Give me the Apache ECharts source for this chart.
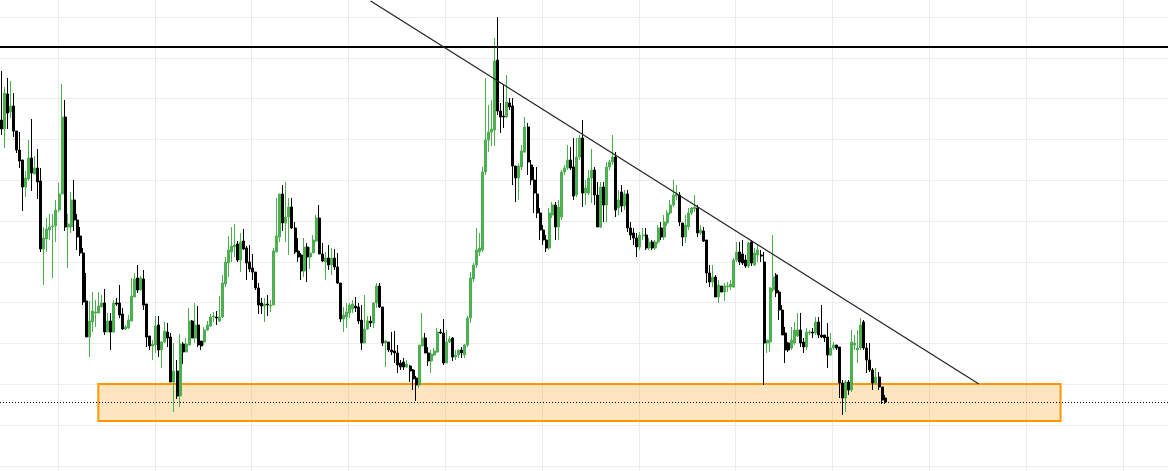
<!DOCTYPE html>
<html>
<head>
<meta charset="utf-8">
<script src="https://cdn.jsdelivr.net/npm/echarts@6/dist/echarts.min.js"></script>
<style>html,body{margin:0;padding:0;background:#fff;}#c{width:1168px;height:471px;}</style>
</head>
<body>
<div id="c"></div>
<script>
// Price series (points), one entry per candle
const opens = [
1351,1342,1377,1359,1365,1340,1321,1311,1284,1292,
1313,1297,1303,1290,1222,1232,1241,1244,1245,1261,
1277,1354,1244,1244,1271,1251,1235,1218,1170,1134,
1149,1158,1158,1164,1168,1139,1150,1139,1168,1168,
1157,1142,1143,1150,1174,1193,1181,1192,1167,1135,
1125,1126,1146,1121,1129,1139,1134,1089,1100,1075,
1127,1119,1126,1150,1133,1146,1130,1129,1141,1145,
1154,1154,1150,1154,1187,1208,1219,1224,1227,1211,
1230,1223,1209,1203,1199,1183,1168,1165,1167,1165,
1166,1219,1234,1277,1248,1254,1264,1243,1220,1216,
1200,1224,1214,1218,1230,1253,1217,1209,1213,1206,
1213,1204,1188,1152,1154,1158,1162,1165,1164,1151,
1128,1142,1150,1148,1168,1185,1164,1128,1129,1121,
1120,1118,1108,1109,1104,1105,1101,1093,1086,1125,
1133,1118,1110,1116,1119,1139,1138,1108,1129,1133,
1114,1116,1121,1116,1126,1153,1192,1206,1219,1221,
1299,1331,1339,1341,1411,1360,1355,1354,1368,1365,
1305,1293,1304,1319,1344,1306,1291,1277,1258,1241,
1231,1223,1256,1266,1244,1254,1299,1303,1311,1304,
1276,1314,1333,1278,1278,1293,1301,1276,1244,1284,
1266,1304,1309,1314,1263,1279,1265,1277,1243,1238,
1233,1224,1235,1236,1223,1229,1223,1229,1243,1234,
1248,1258,1266,1275,1276,1248,1234,1244,1258,1262,
1263,1238,1240,1231,1198,1189,1194,1174,1185,1179,
1184,1184,1184,1211,1219,1217,1211,1205,1229,1206,
1216,1216,1209,1128,1129,1181,1196,1179,1161,1138,
1128,1123,1128,1135,1141,1129,1124,1138,1139,1138,
1149,1136,1136,1134,1116,1123,1126,1124,1088,1073,
1089,1081,1126,1121,1123,1149,1123,1111,1101,1088,
1094,1084,1073
];
const closes = [
1342,1378,1358,1365,1340,1321,1310,1284,1293,1313,
1298,1303,1289,1222,1233,1242,1244,1245,1261,1277,
1354,1244,1247,1271,1251,1234,1218,1169,1134,1150,
1160,1159,1165,1168,1139,1150,1139,1168,1167,1156,
1142,1144,1151,1175,1192,1181,1193,1166,1134,1125,
1127,1145,1121,1129,1140,1133,1089,1100,1075,1127,
1119,1127,1150,1133,1146,1126,1125,1141,1146,1154,
1155,1153,1154,1188,1209,1221,1225,1226,1211,1229,
1222,1208,1202,1199,1183,1166,1165,1167,1166,1166,
1220,1235,1277,1248,1254,1264,1243,1219,1214,1200,
1224,1214,1218,1231,1253,1217,1210,1213,1206,1213,
1204,1188,1152,1156,1159,1166,1167,1163,1150,1128,
1142,1150,1148,1168,1185,1164,1128,1130,1121,1119,
1118,1106,1104,1104,1107,1100,1092,1086,1126,1133,
1118,1110,1117,1120,1139,1138,1108,1129,1132,1114,
1116,1121,1118,1126,1153,1193,1206,1221,1223,1299,
1331,1339,1342,1410,1360,1354,1354,1369,1364,1305,
1293,1305,1320,1344,1309,1291,1278,1258,1241,1231,
1223,1258,1266,1244,1264,1299,1303,1311,1303,1275,
1314,1333,1278,1283,1293,1301,1276,1244,1284,1266,
1304,1309,1314,1261,1271,1265,1277,1243,1236,1233,
1224,1236,1236,1223,1229,1223,1229,1243,1234,1249,
1258,1266,1276,1277,1249,1234,1246,1258,1263,1264,
1238,1241,1230,1198,1189,1194,1174,1186,1179,1185,
1185,1187,1211,1219,1209,1208,1205,1228,1208,1218,
1221,1215,1128,1131,1183,1194,1178,1161,1136,1121,
1121,1131,1141,1141,1128,1124,1139,1139,1138,1149,
1136,1134,1133,1116,1123,1126,1123,1088,1073,1089,
1081,1129,1128,1123,1146,1123,1111,1101,1088,1094,
1084,1071,1069
];
const highs = [
1400,1384,1393,1390,1378,1340,1339,1311,1300,1331,
1352,1315,1322,1303,1244,1253,1257,1257,1271,1288,
1387,1371,1257,1279,1291,1257,1244,1223,1198,1170,
1179,1171,1179,1176,1182,1158,1158,1171,1173,1186,
1163,1146,1156,1193,1198,1206,1195,1201,1167,1135,
1131,1155,1155,1130,1149,1148,1138,1128,1111,1137,
1129,1133,1163,1151,1168,1165,1130,1144,1150,1157,
1159,1160,1175,1196,1214,1235,1244,1247,1230,1238,
1242,1225,1226,1217,1199,1188,1173,1173,1176,1171,
1223,1273,1277,1286,1289,1273,1273,1249,1233,1218,
1233,1228,1224,1236,1256,1266,1228,1219,1226,1223,
1222,1218,1188,1164,1168,1168,1171,1174,1168,1166,
1176,1155,1155,1169,1188,1188,1164,1131,1129,1139,
1140,1126,1111,1113,1111,1106,1102,1095,1126,1158,
1138,1124,1121,1123,1143,1142,1152,1141,1135,1134,
1121,1121,1124,1127,1155,1199,1208,1243,1238,1304,
1393,1366,1371,1433,1454,1368,1386,1396,1373,1373,
1305,1308,1326,1354,1348,1311,1304,1304,1263,1246,
1236,1263,1269,1269,1271,1301,1306,1326,1324,1333,
1333,1336,1351,1291,1301,1322,1304,1289,1289,1289,
1309,1311,1336,1319,1281,1286,1281,1281,1249,1243,
1238,1239,1243,1243,1233,1231,1231,1246,1249,1256,
1261,1271,1291,1286,1279,1248,1256,1263,1264,1276,
1266,1246,1244,1231,1206,1206,1196,1191,1185,1188,
1189,1191,1213,1229,1229,1231,1216,1229,1231,1223,
1226,1221,1219,1131,1184,1236,1198,1181,1166,1144,
1129,1144,1149,1158,1158,1133,1143,1141,1143,1154,
1154,1166,1136,1148,1138,1129,1126,1124,1091,1091,
1091,1141,1136,1141,1153,1151,1128,1128,1103,1103,
1099,1084,1076
];
const lows = [
1336,1323,1342,1353,1334,1318,1303,1260,1274,1290,
1280,1297,1272,1219,1186,1219,1231,1193,1229,1259,
1277,1240,1203,1238,1240,1221,1215,1166,1134,1114,
1139,1144,1158,1164,1136,1139,1121,1138,1165,1153,
1141,1141,1142,1150,1174,1178,1181,1161,1124,1121,
1111,1118,1114,1103,1128,1124,1089,1059,1072,1064,
1107,1119,1126,1133,1128,1124,1121,1126,1140,1144,
1149,1146,1149,1153,1184,1194,1209,1214,1209,1199,
1221,1191,1199,1191,1181,1157,1157,1149,1155,1159,
1166,1219,1229,1240,1229,1216,1242,1217,1209,1191,
1194,1189,1202,1218,1229,1217,1209,1191,1201,1196,
1201,1187,1149,1139,1143,1153,1158,1159,1147,1121,
1128,1141,1144,1143,1163,1163,1125,1104,1119,1116,
1108,1098,1101,1101,1103,1089,1081,1070,1083,1125,
1118,1105,1098,1115,1118,1137,1106,1108,1128,1110,
1111,1113,1113,1113,1124,1148,1189,1203,1215,1219,
1296,1319,1325,1325,1356,1338,1343,1353,1361,1286,
1269,1271,1301,1318,1296,1286,1258,1253,1231,1226,
1219,1221,1253,1231,1231,1251,1296,1301,1301,1271,
1274,1311,1264,1266,1276,1268,1266,1244,1243,1249,
1249,1301,1306,1254,1256,1259,1261,1239,1231,1226,
1214,1221,1231,1221,1221,1221,1221,1227,1231,1231,
1245,1256,1264,1271,1245,1225,1228,1241,1256,1259,
1234,1236,1229,1188,1184,1184,1174,1168,1179,1170,
1179,1181,1183,1209,1206,1206,1203,1203,1205,1205,
1209,1209,1086,1118,1119,1179,1174,1151,1136,1108,
1119,1121,1126,1134,1124,1118,1121,1136,1133,1136,
1133,1133,1129,1103,1115,1121,1121,1073,1056,1059,
1076,1079,1121,1108,1121,1121,1098,1099,1081,1086,
1081,1067,1067
];
// Time slots on the axis (candles plus empty space on the right)
const SLOT_COUNT = 386;
const categories = Array.from({length: SLOT_COUNT}, (_, i) => String(i + 1));
// Annotation levels (price)
const resistanceLevel = 1424;
const lastPriceLevel = 1069;
const zoneTop = 1087, zoneBottom = 1050;
const zoneStartSlot = 32, zoneEndSlot = 350;
const trendStart = {slot: 122, price: 1470};
const trendEnd = {slot: 323, price: 1087};

const candleData = opens.map((o, i) => [o, closes[i], lows[i], highs[i]]);

const chart = echarts.init(document.getElementById('c'), null, {renderer: 'canvas'});
const gridLine = {show: true, lineStyle: {color: '#ececec', width: 1}};
const hidden = {axisLine: {show: false}, axisTick: {show: false}, axisLabel: {show: false}};
chart.setOption({
  animation: false,
  backgroundColor: '#ffffff',
  grid: [
    {left: 0, right: 0, top: 0, bottom: 0},
    {left: 0, right: 0, top: 17, bottom: 5},
    {left: 58, right: 0, top: 0, bottom: 0}
  ],
  xAxis: [
    {type: 'category', gridIndex: 0, data: categories, boundaryGap: true, show: false},
    Object.assign({type: 'value', gridIndex: 1, min: 0, max: 1, splitLine: {show: false}}, hidden),
    Object.assign({type: 'value', gridIndex: 2, min: 0, max: 1110 / 96.8, interval: 1, splitLine: gridLine}, hidden)
  ],
  yAxis: [
    {type: 'value', gridIndex: 0, min: 1000, max: 1471, show: false, scale: true},
    Object.assign({type: 'value', gridIndex: 1, min: 0, max: 11, interval: 1, splitLine: gridLine}, hidden),
    Object.assign({type: 'value', gridIndex: 2, min: 0, max: 1, splitLine: {show: false}}, hidden)
  ],
  series: [{
    type: 'candlestick',
    xAxisIndex: 0,
    yAxisIndex: 0,
    data: candleData,
    barWidth: 2.5,
    clip: false,
    itemStyle: {
      color: '#4caf50', color0: '#000000',
      borderColor: '#4caf50', borderColor0: '#000000',
      borderWidth: 1
    },
    markArea: {
      silent: true,
      itemStyle: {color: 'rgba(255,152,0,0.25)', borderColor: '#ff9800', borderWidth: 2},
      data: [[
        {coord: [categories[zoneStartSlot], zoneTop]},
        {coord: [categories[zoneEndSlot], zoneBottom]}
      ]]
    },
    markLine: {
      silent: true,
      symbol: ['none', 'none'],
      label: {show: false},
      data: [
        {yAxis: resistanceLevel, lineStyle: {color: '#000', width: 2, type: 'solid'}},
        {yAxis: lastPriceLevel, lineStyle: {color: '#000', width: 1, type: [1, 2]}},
        [
          {coord: [categories[trendStart.slot], trendStart.price], lineStyle: {color: '#222', width: 1.2, type: 'solid'}},
          {coord: [categories[trendEnd.slot], trendEnd.price]}
        ]
      ]
    }
  }]
});
</script>
</body>
</html>
